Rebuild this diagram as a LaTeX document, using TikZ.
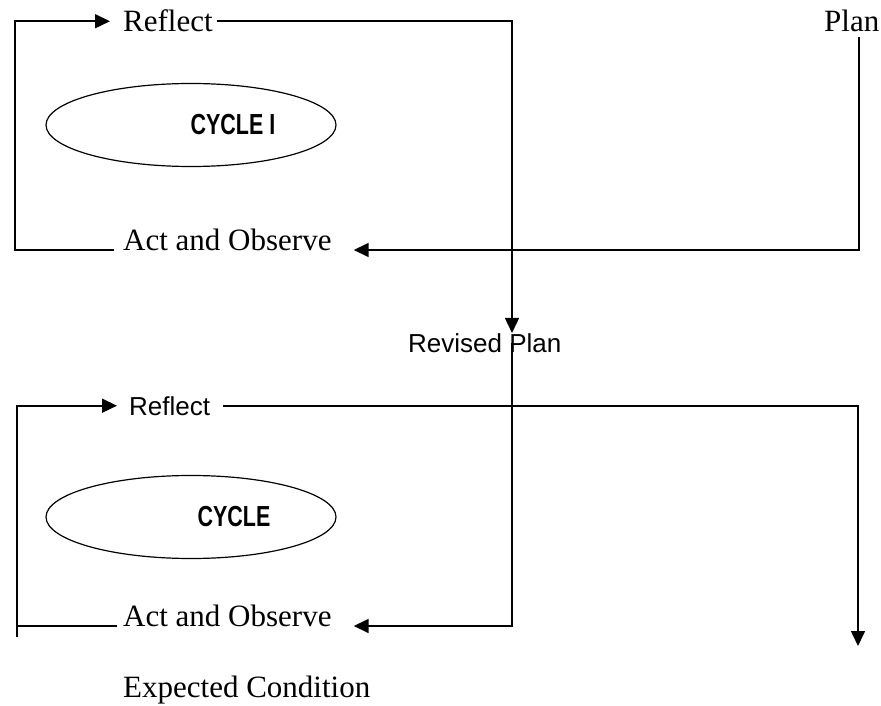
\documentclass[tikz,border=0pt]{standalone}
\usepackage{fontspec}
\setmainfont{Liberation Serif}
\setsansfont{Liberation Sans}
\usepackage{graphicx}
\usetikzlibrary{arrows.meta}
\usetikzlibrary{shapes.geometric}

\begin{document}
\begin{tikzpicture}[x=1pt, y=-1pt,
  >={Triangle[length=15pt,width=14pt]},
  txt/.style = {inner sep=0pt, anchor=base west, font=\fontsize{31}{36}\selectfont},
  sanstxt/.style = {inner sep=0pt, anchor=base west, font=\sffamily\fontsize{26}{30}\selectfont},
  cyclebox/.style = {draw, ellipse, line width=1.2pt, minimum width=290pt, minimum height=83pt,
    inner sep=0pt, font=\sffamily\bfseries\fontsize{29}{34}\selectfont},
  link/.style = {draw, line width=1.6pt}]
  \useasboundingbox (0,0) rectangle (881,706);
  \node[txt] (reflect1) at (123,32) {Reflect};
  \node[txt] (plan) at (824,32) {Plan};
  \node[cyclebox] (cyc1) at (191,125) {\hspace*{84pt}\scalebox{0.74}[1]{CYCLE I}};
  \node[txt] (act1) at (123,250) {Act and Observe};
  \node[sanstxt] (revised) at (408,352) {Revised Plan};
  \node[sanstxt] (reflect2) at (129,415) {Reflect};
  \node[cyclebox] (cyc2) at (191,517) {\hspace*{86pt}\scalebox{0.74}[1]{CYCLE}};
  \node[txt] (act2) at (123,626) {Act and Observe};
  \node[txt] (expected) at (123,697) {Expected Condition};
  \coordinate (left1) at (15,0);
  \coordinate (left2) at (17,637);
  \coordinate (mid) at (512,0);
  \coordinate (down) at (858,646);
  \path [link, ->] ([xshift=-9pt]act1.base west) -| (left1 |- reflect1.west) -- ([xshift=-13pt]reflect1.west);
  \path [link, ->] ([xshift=4pt]reflect1.east) -| (mid |- revised.north);
  \path [link, ->] ([xshift=7pt,yshift=-4pt]plan.south) |- ([xshift=22pt]act1.base east);
  \path [link, ->] (mid |- revised.center) |- ([xshift=22pt]act2.base east);
  \path [link] ([xshift=-6pt]act2.base west) -- (left2 |- act2.base west);
  \path [link, ->] (left2) |- ([xshift=-12pt]reflect2.west);
  \path [link, ->] ([xshift=13pt]reflect2.east) -| (down);
\end{tikzpicture}
\end{document}
